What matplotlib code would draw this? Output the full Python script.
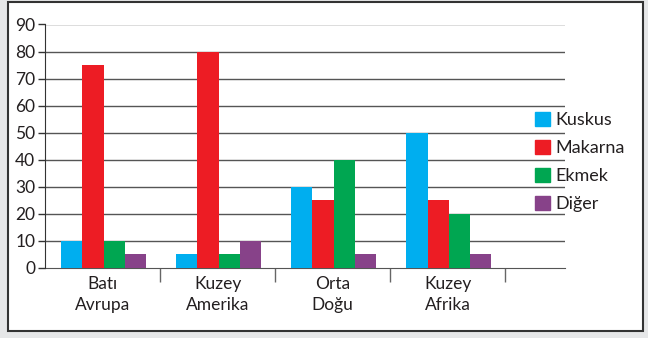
import numpy as np
from matplotlib import pyplot as plt
from matplotlib.patches import Rectangle, Patch

plt.rcParams['font.family'] = ['Lato', 'DejaVu Sans']

regions = ['Batı\nAvrupa', 'Kuzey\nAmerika', 'Orta\nDoğu', 'Kuzey\nAfrika']
series = ['Kuskus', 'Makarna', 'Ekmek', 'Diğer']
kuskus = [10, 5, 30, 50]
makarna = [75, 80, 25, 25]
ekmek = [10, 5, 40, 20]
diger = [5, 10, 5, 5]
colors = ['#00aeef', '#ed1c24', '#00a651', '#874289']
yticks = [0, 10, 20, 30, 40, 50, 60, 70, 80, 90]

fig = plt.figure(figsize=(6.48, 3.38), dpi=100)
fig.patch.set_facecolor('#e6e7e8')
fig.patches.append(Rectangle((8 / 648, 1 - 331 / 338), 635 / 648, 329 / 338,
                             transform=fig.transFigure, facecolor='white',
                             edgecolor='#333333', linewidth=1.5, zorder=-1))

ax = fig.add_axes([45 / 648, 1 - 267.7 / 338, 520 / 648, 243.2 / 338])
ax.set_facecolor('none')

x = np.arange(len(regions))
w = 0.185
for i, (vals, c) in enumerate(zip([kuskus, makarna, ekmek, diger], colors)):
    ax.bar(x + (i - 1.5) * w + 0.01, vals, width=w, color=c, zorder=3,
           label=series[i])

ax.set_xlim(-0.5, 4.02)
ax.set_ylim(0, 90)
ax.set_yticks(yticks)
ax.tick_params(axis='y', length=5, width=1, color='#333333', pad=2,
               labelsize=12.5, labelcolor='#231f20')
for v in yticks[1:]:
    ax.axhline(v, color='#555555', linewidth=1, zorder=1)

ax.set_xticks([0.5, 1.5, 2.5, 3.5])
ax.set_xticklabels([])
ax.tick_params(axis='x', which='major', length=10, width=1, color='#666666')
ax.set_xticks(x, minor=True)
ax.set_xticklabels(regions, minor=True, fontsize=12.5, linespacing=1.4,
                   color='#231f20')
ax.tick_params(axis='x', which='minor', length=0, pad=6)

for s in ['top', 'right']:
    ax.spines[s].set_visible(False)
ax.spines['left'].set_color('#333333')
ax.spines['bottom'].set_color('#555555')
ax.spines['left'].set_zorder(4)

handles = [Patch(color=c) for c in colors]
fig.legend(handles, series, loc='upper left',
           bbox_to_anchor=(526 / 648, 1 - 103 / 338), frameon=False,
           fontsize=13, handlelength=0.85, handleheight=0.85,
           handletextpad=0.3, labelspacing=0.64, borderpad=0,
           labelcolor='#231f20')

fig.savefig('out.png', dpi=100, facecolor=fig.get_facecolor())
